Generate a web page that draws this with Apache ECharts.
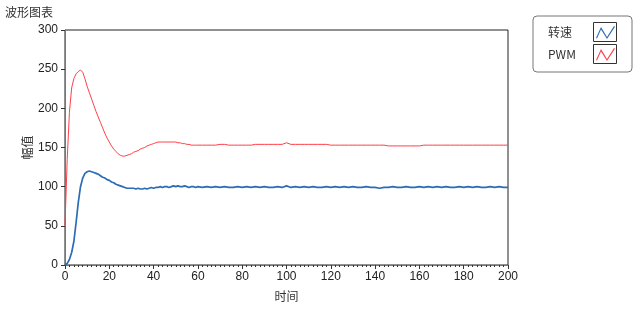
<!DOCTYPE html>
<html>
<head>
<meta charset="utf-8">
<script src="https://cdn.jsdelivr.net/npm/echarts@6/dist/echarts.min.js"></script>
<style>html,body{margin:0;padding:0;background:#fff}#c{width:636px;height:312px}</style>
</head>
<body>
<div id="c"></div>
<script>
// time samples
var times = [0,1,2,3,4,5,6,7,8,9,10,11,12,13,14,15,16,17,18,19,20,21,22,23,24,25,26,27,28,29,30,
  31,32,33,34,35,36,37,38,39,40,41,42,43,44,45,46,47,48,49,50,51,52,53,54,55,56,57,58,59,60,
  62,64,66,68,70,72,74,76,78,80,82,84,86,88,90,92,94,96,98,100,102,104,106,108,110,112,114,116,118,120,
  122,124,126,128,130,132,134,136,138,140,142,144,146,148,150,152,154,156,158,160,162,164,166,168,170,
  172,174,176,178,180,182,184,186,188,190,192,194,196,198,200];
// 转速
var speed = [0,2,7,16,30,54,80,100,111,117,119,120,119,118,117,116,114,112,111,109,108,106,105,103,102,101,100,99,98,98,98,
  98,97,98,97,97,98,97,98,99,98,99,99,100,99,100,100,99,100,101,100,101,100,100,101,100,99,100,100,99,100,
  99,100,99,100,99,100,99,99,100,99,100,99,100,99,100,99,99,100,99,101,99,100,99,100,99,100,99,99,100,99,
  100,99,100,99,100,99,99,100,99,99,98,99,99,100,99,99,100,99,99,100,99,100,99,100,99,
  100,99,99,100,99,100,99,100,99,99,100,99,100,99,99];
// PWM
var pwm = [51,135,195,226,238,244,247,249,246,238,228,220,212,204,196,189,182,175,168,162,157,152,148,145,142,140,139,139,140,141,142,
  144,145,146,148,149,150,152,153,154,155,156,157,157,157,157,157,157,157,157,157,156,156,155,155,154,154,153,153,153,153,
  153,153,153,153,154,154,153,153,153,153,153,153,154,154,154,154,154,154,154,156,154,154,154,154,154,154,154,154,154,153,
  153,153,153,153,153,153,153,153,153,153,153,153,152,152,152,152,152,152,152,152,153,153,153,153,153,
  153,153,153,153,153,153,153,153,153,153,153,153,153,153,153];
var seriesNames = ['转速', 'PWM'];
var yTicks = [0, 50, 100, 150, 200, 250, 300];
var xTicks = [0, 20, 40, 60, 80, 100, 120, 140, 160, 180, 200];

function pairs(vals){ return times.map(function(t,i){ return [t, vals[i]]; }); }

var FONT = 'Liberation Sans, Noto Sans CJK SC, sans-serif';
var chart = echarts.init(document.getElementById('c'), null, {renderer:'canvas'});
// zigzag icon; tiny corner specks keep the 24x20 bounding box
var iconPath = 'path://M0,0L0.01,0L0,0.01Z M24,20L23.99,20L24,19.99Z M3,16L8,5L14,15L21,4L22,4.8L14,17L8,7.5L4,16.6Z';
chart.setOption({
  animation: false,
  backgroundColor: '#fff',
  title: { text: '波形图表', left: 0, top: 1, textStyle: { fontSize: 12, fontWeight: 'normal', color: '#333', fontFamily: 'Noto Sans CJK SC' } },
  grid: { left: 65, right: 128, top: 30, bottom: 47, show: true, borderColor: '#222', borderWidth: 1 },
  legend: {
    orient: 'vertical', right: 4, top: 16, align: 'right',
    padding: [6, 15, 8, 15], itemGap: 2, itemWidth: 24, itemHeight: 20,
    borderColor: '#777', borderWidth: 1, borderRadius: 4,
    icon: iconPath,
    formatter: function(n){ return '{n|' + n + '}'; },
    textStyle: { fontSize: 12, color: '#333', fontFamily: 'Noto Sans CJK SC',
      rich: { n: { width: 40, align: 'left', fontSize: 12, color: '#333', fontFamily: 'Noto Sans CJK SC' } } },
    data: seriesNames
  },
  xAxis: {
    type: 'value', min: xTicks[0], max: xTicks[xTicks.length-1], interval: 20,
    name: '时间', nameLocation: 'middle', nameGap: 25,
    nameTextStyle: { fontSize: 12, color: '#333', fontFamily: 'Noto Sans CJK SC' },
    axisLine: { show: true, lineStyle: { color: '#777', width: 1 } },
    axisTick: { show: true, length: 4, lineStyle: { color: '#333' } },
    minorTick: { show: true, splitNumber: 10, length: 2, lineStyle: { color: '#333' } },
    axisLabel: { fontSize: 12, color: '#222', margin: 6, fontFamily: FONT },
    splitLine: { show: false }
  },
  yAxis: {
    type: 'value', min: yTicks[0], max: yTicks[yTicks.length-1], interval: 50,
    name: '幅值', nameLocation: 'middle', nameGap: 32, nameRotate: 90, nameMoveOverlap: false,
    nameTextStyle: { fontSize: 12, color: '#333', fontFamily: 'Noto Sans CJK SC' },
    axisLine: { show: true, lineStyle: { color: '#777', width: 1 } },
    axisTick: { show: true, length: 4, inside: false, lineStyle: { color: '#333' } },
    axisLabel: { fontSize: 12, color: '#222', margin: 7, fontFamily: FONT },
    splitLine: { show: false }
  },
  graphic: [
    { type: 'rect', z: 100, silent: true, shape: { x: 593.5, y: 22.5, width: 23, height: 19 }, style: { fill: null, stroke: '#333', lineWidth: 1 } },
    { type: 'rect', z: 100, silent: true, shape: { x: 593.5, y: 44.5, width: 23, height: 19 }, style: { fill: null, stroke: '#333', lineWidth: 1 } }
  ],
  series: [
    { name: seriesNames[0], type: 'line', data: pairs(speed), showSymbol: false, smooth: false,
      color: '#2b6cb6', lineStyle: { color: '#2b6cb6', width: 1.7 } },
    { name: seriesNames[1], type: 'line', data: pairs(pwm), showSymbol: false, smooth: false,
      color: '#ff3f4a', lineStyle: { color: '#ff3f4a', width: 1 } }
  ]
});
</script>
</body>
</html>
